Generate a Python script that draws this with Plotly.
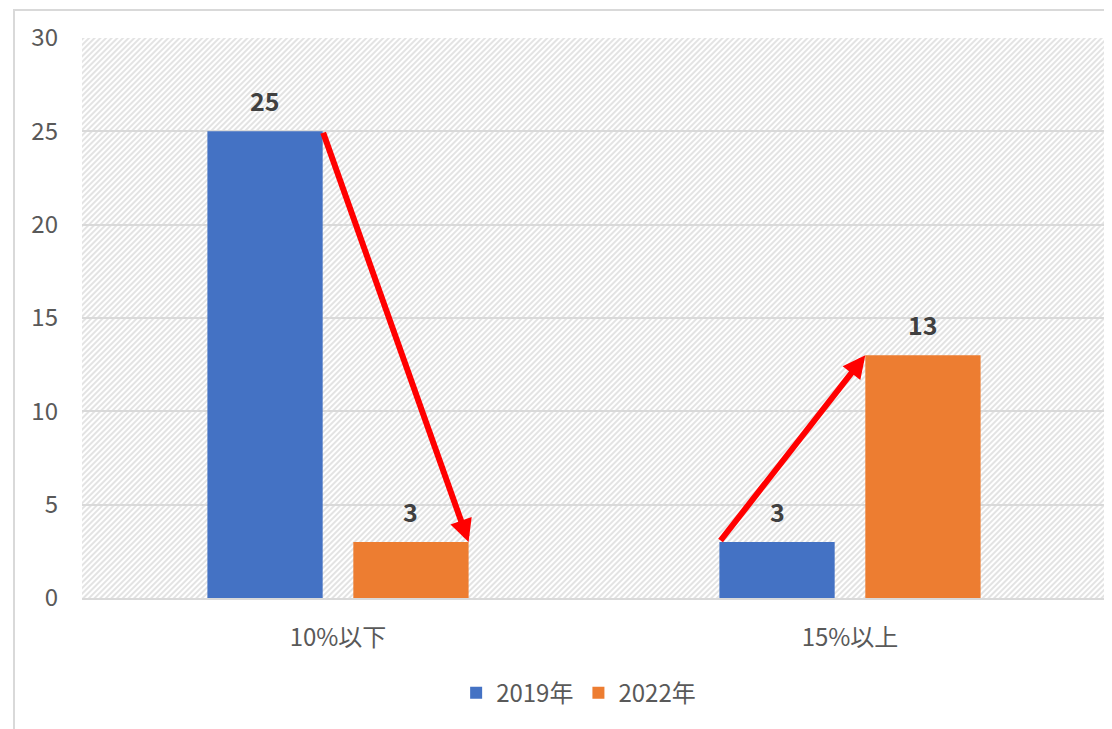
import base64
import plotly.graph_objects as go

# ---- data ----
categories = ["10%以下", "15%以上"]
series_names = ["2019年", "2022年"]
values_2019 = [25, 3]
values_2022 = [3, 13]
colors = ["#4472C4", "#ED7D31"]
y_ticks = [0, 5, 10, 15, 20, 25, 30]

# ---- layout constants (page body has an 8px margin) ----
W, H = 1104, 721
ML, MR, MT, MB = 74, 6, 30, 131
BARGAP = 0.43
BARGROUPGAP = 0.21
FONT = "Noto Sans CJK JP, Noto Sans, sans-serif"

fig = go.Figure()
for name, vals, col in zip(series_names, [values_2019, values_2022], colors):
    fig.add_trace(go.Bar(x=categories, y=vals, name=name, marker_color=col,
                         marker_line_width=0))

# bar geometry in category units (derived from gap settings)
slot = (1 - BARGAP) / 2
bw = slot * (1 - BARGROUPGAP)
centers = [-slot / 2, slot / 2]

# data labels
annotations = []
for si, vals in enumerate([values_2019, values_2022]):
    for ci, v in enumerate(vals):
        annotations.append(dict(x=ci + centers[si], y=v, xref="x", yref="y",
                                text=f"<b>{v}</b>", showarrow=False,
                                yanchor="middle", yshift=31,
                                font=dict(family=FONT, size=25, color="#404040")))

# arrows showing the change between years
arrow = dict(showarrow=True, arrowhead=2, arrowsize=0.75, arrowwidth=6,
             arrowcolor="#FF0000", xref="x", yref="y", axref="x", ayref="y",
             standoff=0, startstandoff=0, text="")
# category 0: from top-right of 2019 bar to top-right of 2022 bar
annotations.append(dict(arrow, ax=0 + centers[0] + bw / 2, ay=values_2019[0],
                        x=0 + centers[1] + bw / 2, y=values_2022[0]))
# category 1: from top-left of 2019 bar to top-left of 2022 bar
annotations.append(dict(arrow, ax=1 + centers[0] - bw / 2, ay=values_2019[1],
                        x=1 + centers[1] - bw / 2, y=values_2022[1]))

# hatched plot-area background
pw, ph = W - ML - MR, H - MT - MB
svg = (f'<svg xmlns="http://www.w3.org/2000/svg" width="{pw}" height="{ph}">'
       '<defs><pattern id="p" width="4" height="4" patternUnits="userSpaceOnUse" '
       'patternTransform="rotate(45)"><rect width="4" height="4" fill="#ffffff"/>'
       '<rect width="2" height="4" fill="#e3e3e3"/></pattern></defs>'
       f'<rect width="{pw}" height="{ph}" fill="url(#p)"/></svg>')
src = "data:image/svg+xml;base64," + base64.b64encode(svg.encode()).decode()

# chart border (pixels -> paper)
bx0 = (6 - ML) / pw
by1 = (ph + MT - 2) / ph
fig.add_shape(type="rect", xref="paper", yref="paper", x0=bx0, x1=1.05,
              y0=-0.4, y1=by1, line=dict(color="#d9d9d9", width=2),
              fillcolor="rgba(0,0,0,0)", layer="below")

fig.update_layout(
    width=W, height=H,
    margin=dict(l=ML, r=MR, t=MT, b=MB),
    paper_bgcolor="white", plot_bgcolor="white",
    barmode="group", bargap=BARGAP, bargroupgap=BARGROUPGAP,
    font=dict(family=FONT, size=24, color="#595959"),
    images=[dict(source=src, xref="paper", yref="paper", x=0, y=1,
                 sizex=1, sizey=1, sizing="stretch", xanchor="left",
                 yanchor="top", layer="below")],
    annotations=annotations,
    legend=dict(orientation="h", x=0.485, xanchor="center", y=-0.17,
                yanchor="middle", font=dict(family=FONT, size=24, color="#595959"),
                itemclick=False),
    showlegend=True,
)
fig.update_yaxes(range=[0, 30], tickvals=y_ticks, showgrid=True,
                 gridcolor="#d9d9d9", gridwidth=2, zeroline=False,
                 showline=False, ticks="", ticklabelstandoff=23,
                 tickfont=dict(family=FONT, size=24, color="#595959"))
fig.update_xaxes(type="category", showline=True, linecolor="#d9d9d9",
                 linewidth=2, ticks="", ticklabelstandoff=17,
                 tickfont=dict(family=FONT, size=24, color="#595959"))

fig.write_html("out.html")
